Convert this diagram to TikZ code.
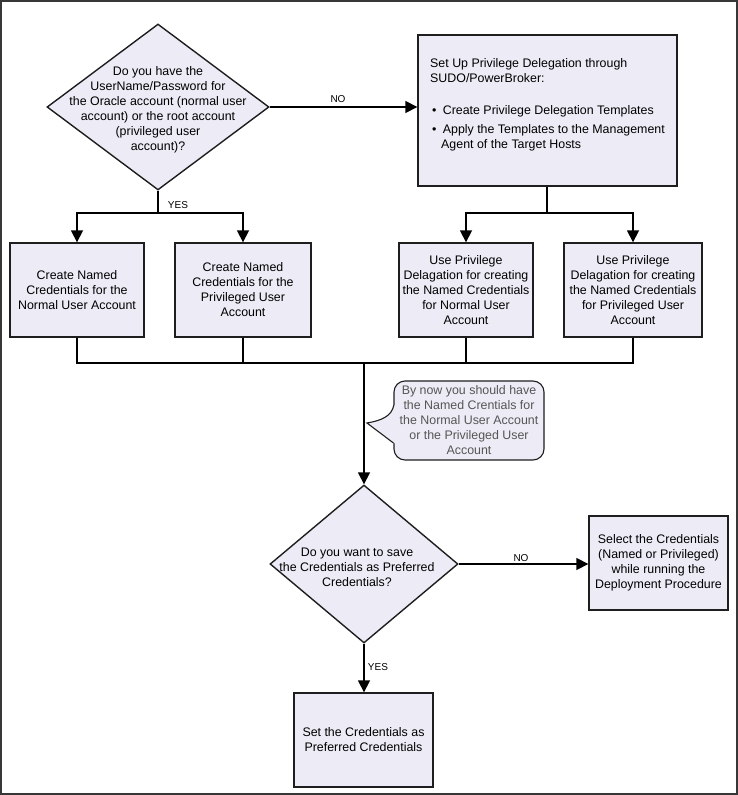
\documentclass[tikz,border=0pt]{standalone}
\usepackage{fontspec}
\setmainfont{Liberation Sans}
\usetikzlibrary{shapes.geometric,arrows.meta,calc}
\definecolor{lav}{RGB}{237,236,246}
\definecolor{edgecol}{RGB}{30,30,30}
\definecolor{framecol}{RGB}{55,55,55}
\definecolor{notetext}{RGB}{85,85,85}
\begin{document}
\begin{tikzpicture}[x=1pt,y=-1pt,
  procbox/.style={draw=edgecol,line width=1.4pt,fill=lav,inner sep=0pt,align=center,font=\fontsize{12.4}{15}\selectfont},
  decision/.style={diamond,draw=edgecol,line width=1.4pt,fill=lav,inner sep=0pt},
  txt/.style={align=center,font=\fontsize{12.4}{15}\selectfont,inner sep=0pt},
  notebox/.style={draw=edgecol,line width=1.1pt,fill=lav,rounded corners=11pt,inner sep=0pt,align=center,text=notetext,font=\fontsize{12.4}{15}\selectfont},
  flow/.style={line width=1.7pt,draw=black},
  arrowflow/.style={flow,-{Triangle[length=12pt,width=12pt]}},
  lbl/.style={font=\fontsize{10}{12}\selectfont,inner sep=0pt}
]
\useasboundingbox (0,0) rectangle (738,795);
\draw[line width=1.3pt,draw=framecol] (1,1) rectangle (737,794);

% top decision
\node[decision,minimum width=222pt,minimum height=166pt] (q1) at (158,107) {};
\node[txt] (q1t) at (158,109.5) {Do you have the\\UserName/Password for\\the Oracle account (normal user\\account) or the root account\\(privileged user\\account)?};

% set up box
\node[procbox,minimum width=259pt,minimum height=151pt] (setup) at (547.5,110.5) {};
\node[txt,align=left,anchor=north west] (setupt) at (430,58.5) {Set Up Privilege Delegation through\\SUDO/PowerBroker:\\[17pt]\hspace{2pt}\textbullet\hspace{6.3pt}Create Privilege Delegation Templates\\[4pt]\hspace{2pt}\textbullet\hspace{6.3pt}Apply the Templates to the Management\\\hspace{11pt}Agent of the Target Hosts};

% row boxes
\node[procbox,minimum width=134pt,minimum height=94pt] (b1) at (77,290) {Create Named\\Credentials for the\\Normal User Account};
\node[procbox,minimum width=136pt,minimum height=94pt] (b2) at (243,290) {Create Named\\Credentials for the\\Privileged User\\Account};
\node[procbox,minimum width=134pt,minimum height=94pt] (b3) at (466,290) {Use Privilege\\Delagation for creating\\the Named Credentials\\for Normal User\\Account};
\node[procbox,minimum width=138pt,minimum height=94pt] (b4) at (633,290) {Use Privilege\\Delagation for creating\\the Named Credentials\\for Privileged User\\Account};

% callout
\node[notebox,minimum width=150pt,minimum height=79pt] (note) at (469,420.5) {By now you should have\\the Named Crentials for\\the Normal User Account\\or the Privileged User\\Account};
\fill[lav] ($(note.west)+(3,-15.5)$) -- ($(note.west)+(0.5,-15.5)$) .. controls ($(note.west)+(-2,-4)$) and ($(note.west)+(-12,0)$) .. ($(note.west)+(-26.5,2.5)$) -- ($(note.west)+(0,22.5)$) -- ($(note.west)+(3,22.5)$) -- cycle;
\draw[draw=edgecol,line width=1.1pt] ($(note.west)+(0.5,-15.5)$) .. controls ($(note.west)+(-2,-4)$) and ($(note.west)+(-12,0)$) .. ($(note.west)+(-26.5,2.5)$) -- ($(note.west)+(0,22.5)$);

% lower decision
\node[decision,minimum width=188pt,minimum height=158pt] (q2) at (364,564) {};
\node[txt] (q2t) at (357,567) {Do you want to save\\the Credentials as Preferred\\Credentials?};

\node[procbox,minimum width=139pt,minimum height=94pt] (sel) at (658.5,563) {Select the Credentials\\(Named or Privileged)\\while running the\\Deployment Procedure};
\node[procbox,minimum width=139pt,minimum height=94pt] (pref) at (363.5,740) {Set the Credentials as\\Preferred Credentials};

% connectors
\coordinate (yesbar) at (158,213);
\draw[flow] (q1.south) -- (yesbar);
\draw[arrowflow] (yesbar) -| (b1.north);
\draw[arrowflow] (yesbar) -| (b2.north);
\node[lbl] (yes1) at (178,205) {YES};

\draw[arrowflow] (q1.east) -- (q1.east -| setup.west);
\node[lbl] (no1) at (338,99) {NO};

\coordinate (nobar) at (547,213);
\draw[flow] (setup.south -| nobar) -- (nobar);
\draw[arrowflow] (nobar) -| (b3.north);
\draw[arrowflow] (nobar) -| (b4.north);

\coordinate (merge) at (364,363);
\draw[flow] (b1.south) |- (merge);
\draw[flow] (b2.south) |- (merge);
\draw[flow] (b3.south) |- (merge);
\draw[flow] (b4.south) |- (merge);
\draw[arrowflow] (merge) -- (q2.north);

\draw[arrowflow] (q2.east) -- (q2.east -| sel.west);
\node[lbl] (no2) at (521,558) {NO};
\draw[arrowflow] (q2.south) -- (q2.south |- pref.north);
\node[lbl] (yes2) at (378,667) {YES};
\end{tikzpicture}
\end{document}
